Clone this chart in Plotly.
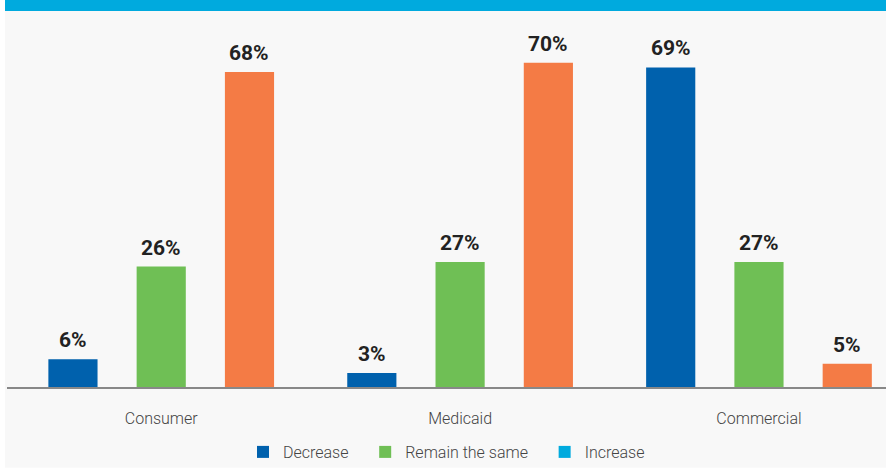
import plotly.graph_objects as go

categories = ["Consumer", "Medicaid", "Commercial"]
series_names = ["Decrease", "Remain the same", "Increase"]
decrease = [6, 3, 69]
remain = [26, 27, 27]
increase = [68, 70, 5]

bar_colors = ["#0061AD", "#6FBF55", "#F47B45"]
legend_colors = ["#0061AD", "#6FBF55", "#00AADE"]

W, H = 886, 469
ML, MR, MT, MB = 7, 0, 30, 81
pw = W - ML - MR
ph = H - MT - MB
XR = [-0.516, 2.425]
BARGAP = 0.114

def px_x(p):
    return (p - ML) / pw

def px_y(p):
    return (H - MB - p) / ph

fig = go.Figure()
values = [decrease, remain, increase]
for i, (name, vals) in enumerate(zip(series_names, values)):
    fig.add_trace(go.Bar(
        x=categories, y=vals, name=name, offsetgroup=str(i),
        marker=dict(color=bar_colors[i], line=dict(width=0)),
        showlegend=False, hoverinfo="x+y",
    ))

NBSP = "\u00a0"
legend_labels = [series_names[0] + NBSP * 3, series_names[1] + NBSP * 3, series_names[2]]
for i, name in enumerate(legend_labels):
    fig.add_trace(go.Bar(
        x=[categories[0]], y=[None], name=name, offsetgroup=str(i),
        marker=dict(color=legend_colors[i], line=dict(width=0)),
        showlegend=True, hoverinfo="skip",
    ))

# value labels above bars
px_per_unit = pw / (XR[1] - XR[0])
slot_px = px_per_unit * (1 - BARGAP) / 3
for i, vals in enumerate(values):
    for cat, v in zip(categories, vals):
        fig.add_annotation(
            x=cat, y=v, xref="x", yref="y", text=f"{v}%", showarrow=False,
            xanchor="center", yanchor="bottom", xshift=(i - 1) * slot_px, yshift=5,
            font=dict(family="Roboto", size=21, color="#222222", weight="bold"),
        )

fig.add_shape(type="rect", xref="paper", yref="paper", layer="below",
              x0=px_x(5), x1=px_x(W), y0=px_y(H), y1=px_y(0),
              fillcolor="#F8F8F8", line=dict(width=0))
fig.add_shape(type="rect", xref="paper", yref="paper", layer="below",
              x0=px_x(5), x1=px_x(W), y0=px_y(11), y1=px_y(0),
              fillcolor="#00AADE", line=dict(width=0))

fig.update_layout(
    width=W, height=H,
    margin=dict(l=ML, r=MR, t=MT, b=MB, pad=0),
    paper_bgcolor="white", plot_bgcolor="rgba(0,0,0,0)",
    barmode="group", bargap=BARGAP, bargroupgap=0.443,
    font=dict(family="Roboto", color="#444444"),
    xaxis=dict(
        range=XR, showline=True, linecolor="#888888", linewidth=1.5,
        showgrid=False, zeroline=False, ticks="", ticklabelstandoff=16,
        tickfont=dict(family="Roboto", size=16, color="#444444", weight=300),
        fixedrange=True,
    ),
    yaxis=dict(range=[0, ph / 4.645], visible=False, showgrid=False, zeroline=False),
    legend=dict(
        orientation="h", x=0.5, xanchor="center", y=px_y(453), yanchor="middle",
        font=dict(family="Roboto", size=16, color="#444444", weight=300),
        bgcolor="rgba(0,0,0,0)", itemclick=False, traceorder="normal",
    ),
    showlegend=True,
)

fig.write_html("out.html")
